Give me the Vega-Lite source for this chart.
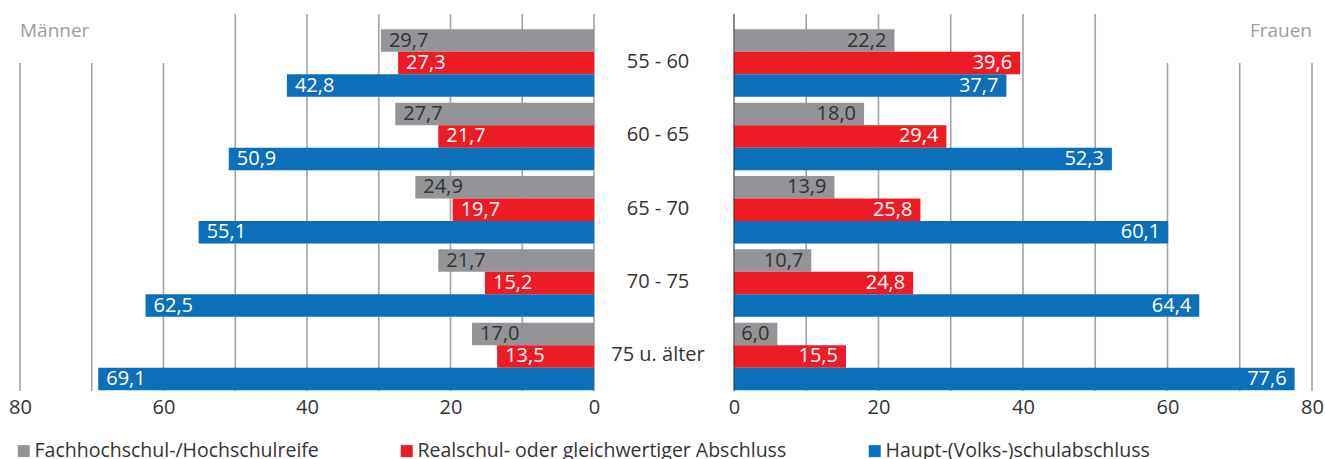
{
  "$schema": "https://vega.github.io/schema/vega-lite/v6.json",
  "padding": {"left": 8, "top": 13, "right": 0, "bottom": 0},
  "bounds": "flush",
  "spacing": 0,
  "config": {
    "font": "Open Sans",
    "view": {"stroke": null},
    "locale": {"number": {"decimal": ",", "thousands": ".", "grouping": [3], "currency": ["", " €"]}},
    "axisX": {"domain": false, "ticks": false, "grid": false, "labelFontSize": 20, "labelColor": "#333333", "labelFlush": false, "labelPadding": 6, "labelFont": "Open Sans"},
    "legend": {"orient": "none", "legendX": -6, "legendY": 427, "direction": "horizontal", "symbolType": "square", "symbolSize": 144, "symbolStrokeWidth": 0, "labelFontSize": 19.5, "labelColor": "#333333", "labelFont": "Open Sans", "columnPadding": 78, "labelOffset": 1, "labelLimit": 600, "padding": 0}
  },
  "datasets": {
    "edu": [
      {"sex": "Männer", "age": "55 - 60", "cat": "Fachhochschul-/Hochschulreife", "value": 29.7},
      {"sex": "Männer", "age": "55 - 60", "cat": "Realschul- oder gleichwertiger Abschluss", "value": 27.3},
      {"sex": "Männer", "age": "55 - 60", "cat": "Haupt-(Volks-)schulabschluss", "value": 42.8},
      {"sex": "Männer", "age": "60 - 65", "cat": "Fachhochschul-/Hochschulreife", "value": 27.7},
      {"sex": "Männer", "age": "60 - 65", "cat": "Realschul- oder gleichwertiger Abschluss", "value": 21.7},
      {"sex": "Männer", "age": "60 - 65", "cat": "Haupt-(Volks-)schulabschluss", "value": 50.9},
      {"sex": "Männer", "age": "65 - 70", "cat": "Fachhochschul-/Hochschulreife", "value": 24.9},
      {"sex": "Männer", "age": "65 - 70", "cat": "Realschul- oder gleichwertiger Abschluss", "value": 19.7},
      {"sex": "Männer", "age": "65 - 70", "cat": "Haupt-(Volks-)schulabschluss", "value": 55.1},
      {"sex": "Männer", "age": "70 - 75", "cat": "Fachhochschul-/Hochschulreife", "value": 21.7},
      {"sex": "Männer", "age": "70 - 75", "cat": "Realschul- oder gleichwertiger Abschluss", "value": 15.2},
      {"sex": "Männer", "age": "70 - 75", "cat": "Haupt-(Volks-)schulabschluss", "value": 62.5},
      {"sex": "Männer", "age": "75 u. älter", "cat": "Fachhochschul-/Hochschulreife", "value": 17.0},
      {"sex": "Männer", "age": "75 u. älter", "cat": "Realschul- oder gleichwertiger Abschluss", "value": 13.5},
      {"sex": "Männer", "age": "75 u. älter", "cat": "Haupt-(Volks-)schulabschluss", "value": 69.1},
      {"sex": "Frauen", "age": "55 - 60", "cat": "Fachhochschul-/Hochschulreife", "value": 22.2},
      {"sex": "Frauen", "age": "55 - 60", "cat": "Realschul- oder gleichwertiger Abschluss", "value": 39.6},
      {"sex": "Frauen", "age": "55 - 60", "cat": "Haupt-(Volks-)schulabschluss", "value": 37.7},
      {"sex": "Frauen", "age": "60 - 65", "cat": "Fachhochschul-/Hochschulreife", "value": 18.0},
      {"sex": "Frauen", "age": "60 - 65", "cat": "Realschul- oder gleichwertiger Abschluss", "value": 29.4},
      {"sex": "Frauen", "age": "60 - 65", "cat": "Haupt-(Volks-)schulabschluss", "value": 52.3},
      {"sex": "Frauen", "age": "65 - 70", "cat": "Fachhochschul-/Hochschulreife", "value": 13.9},
      {"sex": "Frauen", "age": "65 - 70", "cat": "Realschul- oder gleichwertiger Abschluss", "value": 25.8},
      {"sex": "Frauen", "age": "65 - 70", "cat": "Haupt-(Volks-)schulabschluss", "value": 60.1},
      {"sex": "Frauen", "age": "70 - 75", "cat": "Fachhochschul-/Hochschulreife", "value": 10.7},
      {"sex": "Frauen", "age": "70 - 75", "cat": "Realschul- oder gleichwertiger Abschluss", "value": 24.8},
      {"sex": "Frauen", "age": "70 - 75", "cat": "Haupt-(Volks-)schulabschluss", "value": 64.4},
      {"sex": "Frauen", "age": "75 u. älter", "cat": "Fachhochschul-/Hochschulreife", "value": 6.0},
      {"sex": "Frauen", "age": "75 u. älter", "cat": "Realschul- oder gleichwertiger Abschluss", "value": 15.5},
      {"sex": "Frauen", "age": "75 u. älter", "cat": "Haupt-(Volks-)schulabschluss", "value": 77.6}
    ],
    "ages": [
      {"age": "55 - 60"}, {"age": "60 - 65"}, {"age": "65 - 70"}, {"age": "70 - 75"}, {"age": "75 u. älter"}
    ],
    "grid": [
      {"v": 0}, {"v": 10}, {"v": 20}, {"v": 30}, {"v": 40}, {"v": 50}, {"v": 60}, {"v": 70}, {"v": 80}
    ]
  },
  "hconcat": [
    {
      "width": 574,
      "height": 377,
      "resolve": {"scale": {"y": "independent"}},
      "layer": [
        {
          "data": {"name": "grid"},
          "transform": [{"filter": "datum.v <= 50"}],
          "mark": {"type": "rule", "color": "#a3a3a3", "strokeWidth": 1.6},
          "encoding": {
            "x": {"field": "v", "type": "quantitative", "scale": {"domain": [0, 80], "reverse": true}, "axis": {"values": [0, 20, 40, 60, 80], "title": null}}
          }
        },
        {
          "data": {"name": "grid"},
          "transform": [{"filter": "datum.v >= 60"}],
          "mark": {"type": "rule", "color": "#a3a3a3", "strokeWidth": 1.6},
          "encoding": {
            "x": {"field": "v", "type": "quantitative", "axis": {"values": [0, 20, 40, 60, 80], "title": null}},
            "y": {"datum": 0, "type": "quantitative", "scale": {"domain": [0, 1]}, "axis": null},
            "y2": {"datum": 0.87}
          }
        },
        {
          "data": {"name": "edu"},
          "transform": [{"filter": "datum.sex === 'Männer'"}],
          "mark": {"type": "bar"},
          "encoding": {
            "y": {"field": "age", "type": "nominal", "sort": null, "scale": {"type": "band", "domain": ["55 - 60", "60 - 65", "65 - 70", "70 - 75", "75 u. älter"], "paddingInner": 0.08, "paddingOuter": 0.11, "align": 0.95}, "axis": null},
            "yOffset": {"field": "cat", "type": "nominal", "sort": null, "scale": {"domain": ["Fachhochschul-/Hochschulreife", "Realschul- oder gleichwertiger Abschluss", "Haupt-(Volks-)schulabschluss"], "paddingInner": 0, "paddingOuter": 0}},
            "x": {"field": "value", "type": "quantitative", "axis": {"values": [0, 20, 40, 60, 80], "title": null}},
            "color": {"field": "cat", "type": "nominal", "sort": null, "scale": {"domain": ["Fachhochschul-/Hochschulreife", "Realschul- oder gleichwertiger Abschluss", "Haupt-(Volks-)schulabschluss"], "range": ["#929497", "#ED1C24", "#0B70B9"]}, "legend": {"title": null}}
          }
        },
        {
          "data": {"name": "edu"},
          "transform": [{"filter": "datum.sex === 'Männer'"}],
          "mark": {"type": "text", "align": "left", "baseline": "middle", "dx": 8, "fontSize": 20},
          "encoding": {
            "y": {"field": "age", "type": "nominal", "sort": null, "scale": {"type": "band", "domain": ["55 - 60", "60 - 65", "65 - 70", "70 - 75", "75 u. älter"], "paddingInner": 0.08, "paddingOuter": 0.11, "align": 0.95}, "axis": null},
            "yOffset": {"field": "cat", "type": "nominal", "sort": null, "scale": {"type": "band", "domain": ["Fachhochschul-/Hochschulreife", "Realschul- oder gleichwertiger Abschluss", "Haupt-(Volks-)schulabschluss"], "paddingInner": 0, "paddingOuter": 0}},
            "x": {"field": "value", "type": "quantitative", "axis": {"values": [0, 20, 40, 60, 80], "title": null}},
            "text": {"field": "value", "type": "quantitative", "format": ".1f"},
            "color": {"condition": {"test": "datum.cat === 'Fachhochschul-/Hochschulreife'", "value": "#333333"}, "value": "#ffffff"}
          }
        },
        {
          "data": {"values": [{"label": "Männer"}]},
          "mark": {"type": "text", "align": "left", "baseline": "middle", "fontSize": 19, "color": "#9d9d9d"},
          "encoding": {
            "x": {"datum": 80, "type": "quantitative", "axis": {"values": [0, 20, 40, 60, 80], "title": null}},
            "y": {"datum": 0.955, "type": "quantitative", "scale": {"domain": [0, 1]}, "axis": null},
            "text": {"field": "label"}
          }
        }
      ]
    },
    {
      "width": 140,
      "height": 377,
      "data": {"name": "ages"},
      "mark": {"type": "text", "baseline": "middle", "dx": -6, "dy": -1, "fontSize": 20, "color": "#333333"},
      "encoding": {
        "y": {"field": "age", "type": "nominal", "sort": null, "scale": {"type": "band", "domain": ["55 - 60", "60 - 65", "65 - 70", "70 - 75", "75 u. älter"], "paddingInner": 0.08, "paddingOuter": 0.11, "align": 0.95}, "axis": null},
        "text": {"field": "age"}
      }
    },
    {
      "width": 578,
      "height": 377,
      "resolve": {"scale": {"y": "independent"}},
      "layer": [
        {
          "data": {"name": "grid"},
          "transform": [{"filter": "datum.v <= 50"}],
          "mark": {"type": "rule", "color": "#a3a3a3", "strokeWidth": 1.6},
          "encoding": {
            "x": {"field": "v", "type": "quantitative", "scale": {"domain": [0, 80]}, "axis": {"values": [0, 20, 40, 60, 80], "title": null}}
          }
        },
        {
          "data": {"name": "grid"},
          "transform": [{"filter": "datum.v >= 60"}],
          "mark": {"type": "rule", "color": "#a3a3a3", "strokeWidth": 1.6},
          "encoding": {
            "x": {"field": "v", "type": "quantitative", "axis": {"values": [0, 20, 40, 60, 80], "title": null}},
            "y": {"datum": 0, "type": "quantitative", "scale": {"domain": [0, 1]}, "axis": null},
            "y2": {"datum": 0.87}
          }
        },
        {
          "data": {"name": "edu"},
          "transform": [{"filter": "datum.sex === 'Frauen'"}],
          "mark": {"type": "bar"},
          "encoding": {
            "y": {"field": "age", "type": "nominal", "sort": null, "scale": {"type": "band", "domain": ["55 - 60", "60 - 65", "65 - 70", "70 - 75", "75 u. älter"], "paddingInner": 0.08, "paddingOuter": 0.11, "align": 0.95}, "axis": null},
            "yOffset": {"field": "cat", "type": "nominal", "sort": null, "scale": {"domain": ["Fachhochschul-/Hochschulreife", "Realschul- oder gleichwertiger Abschluss", "Haupt-(Volks-)schulabschluss"], "paddingInner": 0, "paddingOuter": 0}},
            "x": {"field": "value", "type": "quantitative", "axis": {"values": [0, 20, 40, 60, 80], "title": null}},
            "color": {"field": "cat", "type": "nominal", "sort": null, "scale": {"domain": ["Fachhochschul-/Hochschulreife", "Realschul- oder gleichwertiger Abschluss", "Haupt-(Volks-)schulabschluss"], "range": ["#929497", "#ED1C24", "#0B70B9"]}, "legend": {"title": null}}
          }
        },
        {
          "data": {"name": "edu"},
          "transform": [{"filter": "datum.sex === 'Frauen'"}],
          "mark": {"type": "text", "align": "right", "baseline": "middle", "dx": -8, "fontSize": 20},
          "encoding": {
            "y": {"field": "age", "type": "nominal", "sort": null, "scale": {"type": "band", "domain": ["55 - 60", "60 - 65", "65 - 70", "70 - 75", "75 u. älter"], "paddingInner": 0.08, "paddingOuter": 0.11, "align": 0.95}, "axis": null},
            "yOffset": {"field": "cat", "type": "nominal", "sort": null, "scale": {"type": "band", "domain": ["Fachhochschul-/Hochschulreife", "Realschul- oder gleichwertiger Abschluss", "Haupt-(Volks-)schulabschluss"], "paddingInner": 0, "paddingOuter": 0}},
            "x": {"field": "value", "type": "quantitative", "axis": {"values": [0, 20, 40, 60, 80], "title": null}},
            "text": {"field": "value", "type": "quantitative", "format": ".1f"},
            "color": {"condition": {"test": "datum.cat === 'Fachhochschul-/Hochschulreife'", "value": "#333333"}, "value": "#ffffff"}
          }
        },
        {
          "data": {"values": [{"v": 0}]},
          "mark": {"type": "rule", "color": "#000000", "opacity": 0.3, "strokeWidth": 1.5},
          "encoding": {
            "x": {"field": "v", "type": "quantitative", "axis": {"values": [0, 20, 40, 60, 80], "title": null}}
          }
        },
        {
          "data": {"values": [{"label": "Frauen"}]},
          "mark": {"type": "text", "align": "right", "baseline": "middle", "fontSize": 19, "color": "#9d9d9d"},
          "encoding": {
            "x": {"datum": 80, "type": "quantitative", "axis": {"values": [0, 20, 40, 60, 80], "title": null}},
            "y": {"datum": 0.955, "type": "quantitative", "scale": {"domain": [0, 1]}, "axis": null},
            "text": {"field": "label"}
          }
        }
      ]
    }
  ],
  "resolve": {"scale": {"x": "independent", "y": "independent", "color": "shared"}}
}
